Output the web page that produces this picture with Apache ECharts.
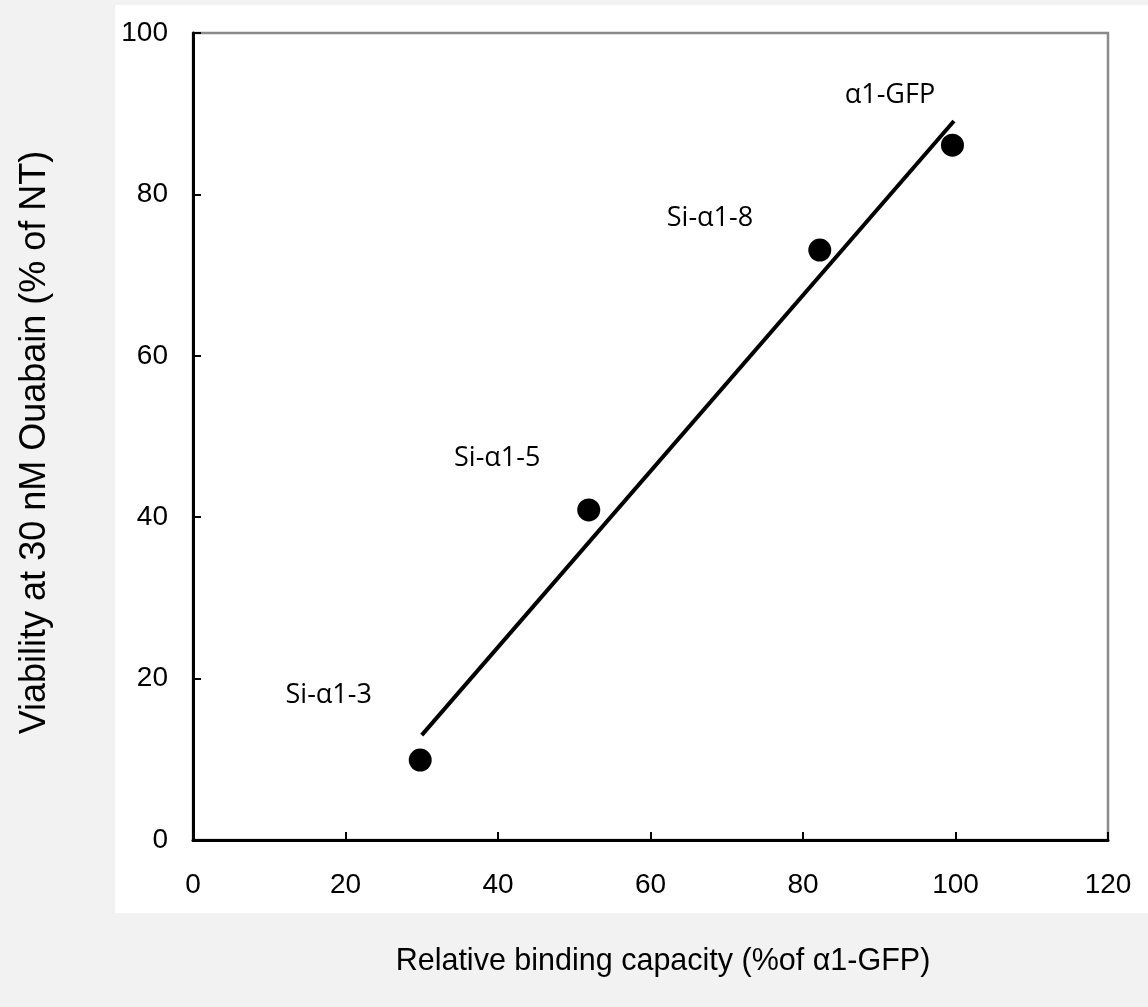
<!DOCTYPE html>
<html>
<head>
<meta charset="utf-8">
<script src="https://cdn.jsdelivr.net/npm/echarts@6/dist/echarts.min.js"></script>
<style>
  html, body { margin: 0; padding: 0; background: #f2f2f2; }
  .panel { position: absolute; left: 115px; top: 5px; width: 1033px; height: 908px; background: #fff; }
  #chart { position: absolute; left: 0; top: 0; width: 1148px; height: 1007px; }
</style>
</head>
<body>
<div class="panel"></div>
<div id="chart"></div>
<script>
  // measured points
  const bindingCapacity = [29.8, 51.9, 82.2, 99.6];
  const viability = [9.9, 40.9, 73.1, 86.1];

  // linear trend line end points
  const trendX = [30, 99.8];
  const trendY = [13.0, 89.1];

  // point labels and where they sit (data units)
  const labelNames = ['Si-\u03b11-3', 'Si-\u03b11-5', 'Si-\u03b11-8', '\u03b11-GFP'];
  const labelX = [17.8, 39.9, 67.8, 91.4];
  const labelY = [17.9, 47.3, 77.0, 92.3];

  const xTitle = 'Relative binding capacity (%of \u03b11-GFP)';
  const yTitle = 'Viability at 30 nM Ouabain (% of NT)';

  const chart = echarts.init(document.getElementById('chart'));
  const option = {
    animation: false,
    backgroundColor: 'transparent',
    grid: {
      left: 193,
      top: 33,
      right: 40,
      bottom: 167,
      show: true,
      borderColor: '#8a8a8a',
      borderWidth: 2.5,
      backgroundColor: '#fff'
    },
    xAxis: {
      type: 'value',
      min: 0,
      max: 120,
      interval: 20,
      name: xTitle,
      nameLocation: 'middle',
      nameGap: 106,
      nameTextStyle: {
        fontFamily: 'Liberation Sans',
        fontSize: 30.5,
        color: '#000',
        padding: [0, 0, 0, 25]
      },
      splitLine: { show: false },
      axisLine: { lineStyle: { color: '#000', width: 3 } },
      axisTick: { inside: true, length: 8, lineStyle: { color: '#000', width: 2 } },
      axisLabel: {
        margin: 31,
        fontFamily: 'Liberation Sans',
        fontSize: 28,
        color: '#000'
      }
    },
    yAxis: {
      type: 'value',
      min: 0,
      max: 100,
      interval: 20,
      name: yTitle,
      nameLocation: 'middle',
      nameGap: 140,
      nameTextStyle: {
        fontFamily: 'Liberation Sans',
        fontSize: 36,
        color: '#000',
        padding: [0, 12, 0, 0]
      },
      splitLine: { show: false },
      axisLine: { show: true, lineStyle: { color: '#000', width: 3 } },
      axisTick: { show: true, inside: true, length: 8, lineStyle: { color: '#000', width: 2 } },
      axisLabel: {
        margin: 25,
        fontFamily: 'Liberation Sans',
        fontSize: 28,
        color: '#000'
      }
    },
    series: [
      {
        name: 'trend',
        type: 'line',
        data: trendX.map((x, i) => [x, trendY[i]]),
        showSymbol: false,
        lineStyle: { color: '#000', width: 4 },
        z: 2
      },
      {
        name: 'points',
        type: 'scatter',
        data: bindingCapacity.map((x, i) => [x, viability[i]]),
        symbol: 'circle',
        symbolSize: 23,
        itemStyle: { color: '#000', opacity: 1 },
        z: 3
      },
      {
        name: 'labels',
        type: 'scatter',
        data: labelX.map((x, i) => ({ name: labelNames[i], value: [x, labelY[i]] })),
        symbolSize: 0,
        silent: true,
        itemStyle: { opacity: 1 },
        label: {
          show: true,
          position: 'inside',
          formatter: p => p.name,
          fontFamily: 'Open Sans',
          fontSize: 27,
          color: '#000'
        }
      }
    ]
  };
  chart.setOption(option);
</script>
</body>
</html>
